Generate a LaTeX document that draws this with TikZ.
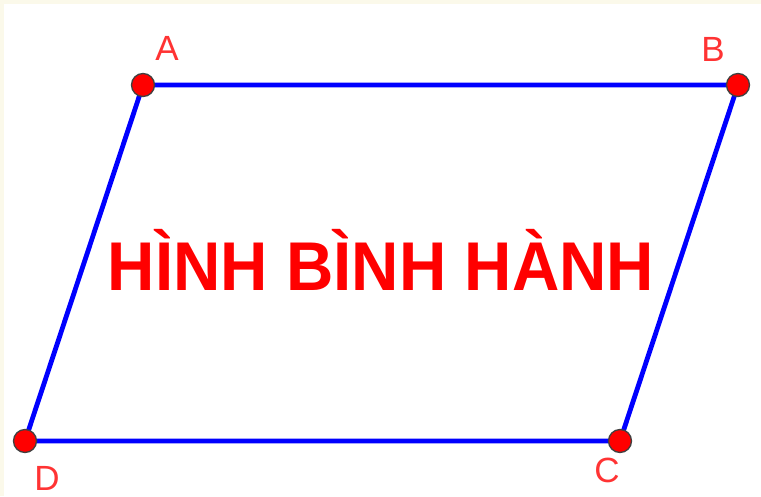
\documentclass[tikz,border=0pt]{standalone}
\usepackage{fontspec}
\setmainfont{Liberation Sans}
\definecolor{cream}{HTML}{FBF9EA}
\definecolor{ptred}{HTML}{FF0000}
\definecolor{edgeblue}{HTML}{0000FF}
\definecolor{lblred}{HTML}{FF3333}
\begin{document}
\begin{tikzpicture}[x=1pt,y=-1pt,
  edge/.style={draw=edgeblue,line width=4.8pt,line cap=round},
  pt/.style={circle,fill=ptred,draw=black!75,line width=1.3pt,minimum size=23pt,inner sep=0pt},
  lbl/.style={text=lblred,font=\fontsize{35}{35}\selectfont,inner sep=0pt}]
\fill[cream] (0,0) rectangle (761,496);
\fill[white] (4,4) rectangle (761,496);
\useasboundingbox (0,0) rectangle (761,496);
\coordinate (a) at (143,85);
\coordinate (b) at (738,85);
\coordinate (c) at (620,441);
\coordinate (d) at (25,441);
\draw[edge] (a) -- (b) -- (c) -- (d) -- cycle;
\node[pt] (pa) at (a) {};
\node[pt] (pb) at (b) {};
\node[pt] (pc) at (c) {};
\node[pt] (pd) at (d) {};
\node[lbl] (la) at (167,48) {A};
\node[lbl] (lb) at (713,49) {B};
\node[lbl] (lc) at (607,470) {C};
\node[lbl] (ld) at (47,478) {D};
\node[text=ptred,font=\fontsize{69}{69}\selectfont\bfseries,inner sep=0pt,anchor=base,xscale=0.95] (t) at (381,290) {HÌNH BÌNH HÀNH};
\end{tikzpicture}
\end{document}
